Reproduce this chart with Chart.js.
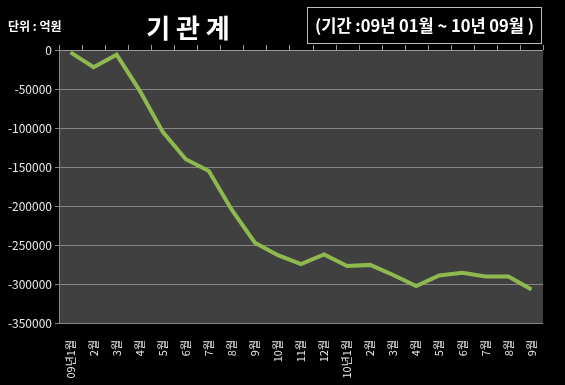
<!DOCTYPE html>
<html>
<head>
<meta charset="utf-8">
<script src="https://cdn.jsdelivr.net/npm/chart.js@4"></script>
<style>
  html, body { margin: 0; padding: 0; background: #000; }
  #wrap { position: relative; width: 565px; height: 385px; background: #000; overflow: hidden; }
  #chart { position: absolute; left: 0; top: 0; }
  .txt { position: absolute; color: #fff; font-family: 'Noto Sans CJK KR', sans-serif; font-weight: bold; white-space: nowrap; }
  #unit { left: 8px; top: 17px; font-size: 12px; }
  #title { left: 188px; top: 26px; font-size: 26px; transform: translate(-50%, -50%); }
  #period { left: 307px; top: 7px; width: 235px; height: 37px; border: 1px solid #bdbdbd; box-sizing: border-box;
            font-size: 16.5px; line-height: 35px; text-align: center; }
</style>
</head>
<body>
<div id="wrap">
  <canvas id="chart" width="565" height="385"></canvas>
  <div class="txt" id="unit">단위 : 억원</div>
  <div class="txt" id="title">기 관 계</div>
  <div class="txt" id="period">(기간 :09년 01월 ~ 10년 09월 )</div>
</div>
<script>
// ── Data ─────────────────────────────────────────────────────────────────────
const months = ['09년1월', '2월', '3월', '4월', '5월', '6월', '7월', '8월', '9월', '10월', '11월', '12월',
                '10년1월', '2월', '3월', '4월', '5월', '6월', '7월', '8월', '9월'];
const values = [-3000, -22000, -6000, -52000, -105000, -140000, -155000, -205000, -247000, -263000, -274500, -262000,
                -277000, -275500, -288500, -302500, -289000, -285500, -290500, -290500, -307000];
const yTicks = [0, -50000, -100000, -150000, -200000, -250000, -300000, -350000];

// plot area background
const plotBg = {
    id: 'plotBg',
    beforeDraw(chart) {
        const { ctx, chartArea: a } = chart;
        ctx.save();
        ctx.fillStyle = '#404040';
        ctx.fillRect(a.left, a.top, a.right - a.left, a.bottom - a.top);
        ctx.restore();
    }
};

// category axis crosses at 0 (top edge): tick marks between categories, pointing up
const topTicks = {
    id: 'topTicks',
    afterDraw(chart) {
        const { ctx, chartArea: a, scales } = chart;
        const xs = scales.x;
        ctx.save();
        ctx.strokeStyle = '#9a9a9a';
        ctx.lineWidth = 1;
        ctx.beginPath();
        for (let i = 0; i <= months.length; i++) {
            const px = Math.round(xs.getPixelForValue(i - 0.5)) + 0.5;
            ctx.moveTo(px, a.top - 5);
            ctx.lineTo(px, a.top);
        }
        ctx.moveTo(a.left, a.top + 0.5);
        ctx.lineTo(a.right, a.top + 0.5);
        ctx.stroke();
        ctx.restore();
    }
};

const FONT = "'Noto Sans CJK KR', sans-serif";

new Chart(document.getElementById('chart'), {
    type: 'line',
    data: {
        labels: months,
        datasets: [{
            data: values,
            borderColor: '#8fb94f',
            borderWidth: 4,
            pointRadius: 0,
            tension: 0,
            fill: false,
        }],
    },
    options: {
        responsive: false,
        animation: false,
        layout: { padding: { top: 50, right: 22, left: 0, bottom: 0 } },
        plugins: { legend: { display: false }, tooltip: { enabled: false } },
        scales: {
            x: {
                position: 'bottom',
                offset: true,
                grid: { display: false },
                border: { display: false },
                ticks: {
                    color: '#e8e8e8',
                    font: { family: FONT, size: 11 },
                    minRotation: 90,
                    maxRotation: 90,
                    autoSkip: false,
                    padding: 9,
                },
                afterFit(s) { s.height = 62; },
            },
            y: {
                min: -350000,
                max: 0,
                afterBuildTicks(s) { s.ticks = yTicks.map(v => ({ value: v })); },
                grid: { color: '#858585', drawTicks: true, tickLength: 4 },
                border: { color: '#858585' },
                ticks: {
                    color: '#e8e8e8',
                    font: { family: FONT, size: 12 },
                    padding: 3,
                    callback: v => String(v),
                },
                afterFit(s) { s.width = 59; },
            },
        },
    },
    plugins: [plotBg, topTicks],
});
</script>
</body>
</html>
